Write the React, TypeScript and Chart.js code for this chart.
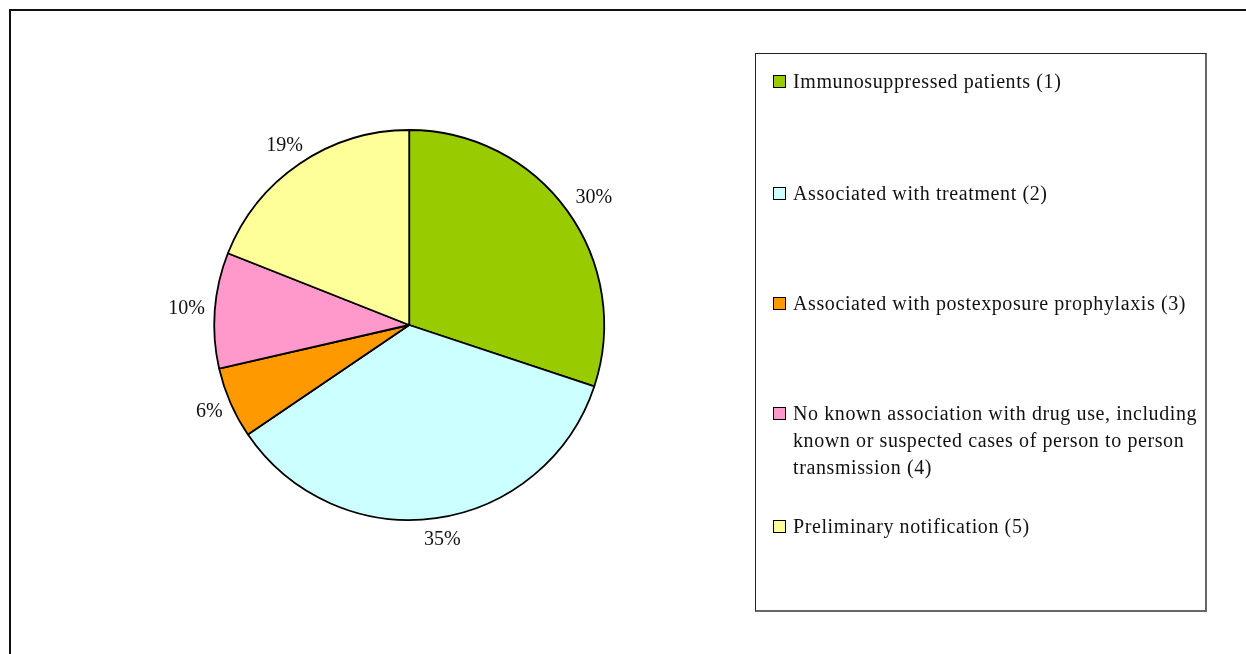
import React, { useEffect, useRef } from "react";
import { Chart, registerables } from "chart.js";

Chart.register(...registerables);

// ---- data ----
const categories: string[][] = [
  ["Immunosuppressed patients (1)"],
  ["Associated with treatment (2)"],
  ["Associated with postexposure prophylaxis (3)"],
  [
    "No known association with drug use, including",
    "known or suspected cases of person to person",
    "transmission (4)",
  ],
  ["Preliminary notification (5)"],
];
const shares: number[] = [30.1, 35.4, 5.9, 9.6, 19.0];
const colors: string[] = ["#99CC00", "#CCFFFF", "#FF9900", "#FF99CC", "#FFFF99"];

// legend item vertical offsets inside the legend box (px)
const legendTops: number[] = [14, 126, 236, 346, 459];

const FONT = '"Liberation Serif", "Times New Roman", serif';

const outsideLabels = {
  id: "outsideLabels",
  afterDatasetsDraw(chart: any) {
    const meta = chart.getDatasetMeta(0);
    const ctx = chart.ctx as CanvasRenderingContext2D;
    const data = chart.data.datasets[0].data as number[];
    const total = data.reduce((a, b) => a + b, 0);
    ctx.save();
    ctx.font = `20px ${FONT}`;
    ctx.fillStyle = "#111";
    ctx.textAlign = "center";
    ctx.textBaseline = "middle";
    meta.data.forEach((arc: any, i: number) => {
      const p = arc.getProps(["x", "y", "startAngle", "endAngle", "outerRadius"], true);
      const mid = (p.startAngle + p.endAngle) / 2;
      const dx = Math.cos(mid);
      const dy = Math.sin(mid);
      const text = Math.round((data[i] / total) * 100) + "%";
      const w = ctx.measureText(text).width;
      const h = 20;
      const g = 12;
      const px = p.x + dx * (p.outerRadius + g) + (dx * w) / 2 + 2;
      const py = p.y + dy * (p.outerRadius + g) + (dy * h) / 2;
      ctx.fillText(text, px, py);
    });
    ctx.restore();
  },
};

export default function App() {
  const ref = useRef<HTMLCanvasElement | null>(null);

  useEffect(() => {
    if (!ref.current) return;
    const chart = new Chart(ref.current, {
      type: "pie",
      data: {
        labels: categories.map((c) => c.join(" ")),
        datasets: [
          {
            data: shares,
            backgroundColor: colors,
            borderColor: "#000",
            borderWidth: 1.8,
            radius: 195,
          } as any,
        ],
      },
      options: {
        animation: false,
        responsive: false,
        maintainAspectRatio: false,
        layout: { padding: { left: 0, top: 0, right: 427.6, bottom: 4 } },
        plugins: {
          legend: { display: false },
          tooltip: { enabled: false },
        },
      },
      plugins: [outsideLabels as any],
    });
    return () => chart.destroy();
  }, []);

  return (
    <div
      style={{
        position: "fixed",
        left: 0,
        top: 0,
        width: 1246,
        height: 654,
        overflow: "hidden",
        background: "#fff",
      }}
    >
      <div
        style={{
          position: "absolute",
          left: 9,
          top: 9,
          width: 1400,
          height: 800,
          borderLeft: "2px solid #111",
          borderTop: "2px solid #111",
        }}
      />
      <canvas
        ref={ref}
        width={1246}
        height={654}
        style={{ position: "absolute", left: 0, top: 0, width: 1246, height: 654 }}
      />
      <div
        style={{
          position: "absolute",
          left: 755,
          top: 53,
          width: 452,
          height: 559,
          boxSizing: "border-box",
          borderLeft: "1px solid #222",
          borderTop: "1px solid #222",
          borderRight: "2px solid #666",
          borderBottom: "2px solid #666",
          fontFamily: FONT,
          fontSize: 20,
          color: "#111",
        }}
      >
        {categories.map((lines, i) => (
          <div
            key={i}
            style={{
              position: "absolute",
              left: 17,
              top: legendTops[i],
              display: "flex",
              alignItems: "flex-start",
              lineHeight: "27px",
              letterSpacing: "0.6px",
              whiteSpace: "nowrap",
            }}
          >
            <span
              style={{
                display: "inline-block",
                width: 13,
                height: 13,
                boxSizing: "border-box",
                border: "1.5px solid #000",
                background: colors[i],
                marginTop: 7,
                marginRight: 7,
              }}
            />
            <span>
              {lines.map((l, j) => (
                <div key={j}>{l}</div>
              ))}
            </span>
          </div>
        ))}
      </div>
    </div>
  );
}
